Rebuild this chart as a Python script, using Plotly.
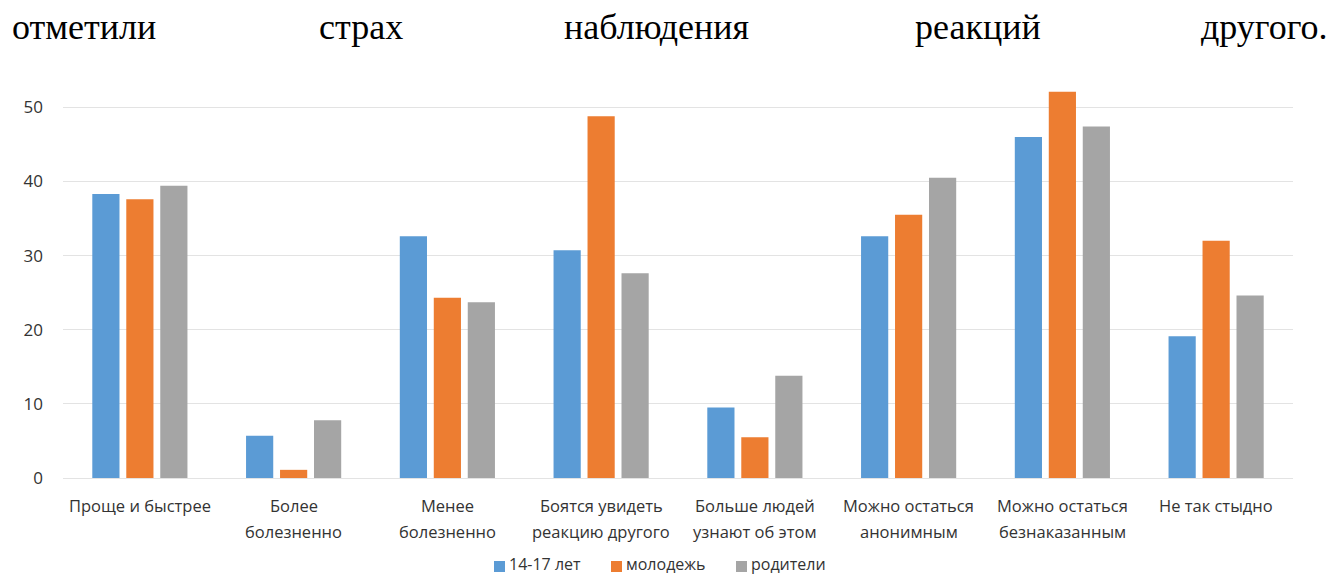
import plotly.graph_objects as go

# Survey answers (percent) by respondent group
categories = [
    "Проще и быстрее",
    "Более болезненно",
    "Менее болезненно",
    "Боятся увидеть реакцию другого",
    "Больше людей узнают об этом",
    "Можно остаться анонимным",
    "Можно остаться безнаказанным",
    "Не так стыдно",
]
label_line1 = ["Проще и быстрее", "Более", "Менее", "Боятся увидеть",
               "Больше людей", "Можно остаться", "Можно остаться", "Не так стыдно"]
label_line2 = ["", "болезненно", "болезненно", "реакцию другого",
               "узнают об этом", "анонимным", "безнаказанным", ""]

teens = [38.3, 5.7, 32.6, 30.7, 9.5, 32.6, 46.0, 19.1]
youth = [37.6, 1.1, 24.3, 48.8, 5.5, 35.5, 52.1, 32.0]
parents = [39.4, 7.8, 23.7, 27.6, 13.8, 40.5, 47.4, 24.6]

series_names = ["14-17 лет", "молодежь", "родители"]
series_values = [teens, youth, parents]
colors = ["#5B9BD5", "#ED7D31", "#A5A5A5"]

y_ticks = [0, 10, 20, 30, 40, 50]

W, H = 1334, 574
ML, MR, MT, MB = 63, 41, 85, 96
PW, PH = W - ML - MR, H - MT - MB

def px_x(px):
    return (px - ML) / PW

def px_y(py):
    return (H - MB - py) / PH

TEXT_COLOR = "#333333"
label_font = dict(family="Open Sans, sans-serif", size=16.5, color=TEXT_COLOR)

fig = go.Figure()
for name, vals, col in zip(series_names, series_values, colors):
    fig.add_trace(go.Bar(x=categories, y=vals, name=name, marker_color=col,
                         marker_line_width=0, showlegend=False))

annotations = []
# category labels, two lines each
for cat, l1, l2 in zip(categories, label_line1, label_line2):
    annotations.append(dict(x=cat, xref="x", y=px_y(505), yref="paper", text=l1,
                            showarrow=False, xanchor="center", yanchor="middle",
                            font=label_font))
    if l2:
        annotations.append(dict(x=cat, xref="x", y=px_y(531), yref="paper", text=l2,
                                showarrow=False, xanchor="center", yanchor="middle",
                                font=label_font))

# legend row
shapes = []
legend_left = [494, 611, 736]
for name, col, lx in zip(series_names, colors, legend_left):
    shapes.append(dict(type="rect", xref="paper", yref="paper",
                       x0=px_x(lx), x1=px_x(lx + 11), y0=px_y(572), y1=px_y(561),
                       fillcolor=col, line_width=0))
    annotations.append(dict(x=px_x(lx + 14), xref="paper", y=px_y(576), yref="paper",
                            text=name, showarrow=False, xanchor="left", yanchor="bottom",
                            borderpad=0,
                            font=dict(family="Open Sans, sans-serif", size=16,
                                      color=TEXT_COLOR)))

# sentence above the chart, spread across the width
head_words = ["отметили", "страх", "наблюдения", "реакций", "другого."]
head_left = [10, 317, 562, 913, 1330]
for i, (wd, hx) in enumerate(zip(head_words, head_left)):
    annotations.append(dict(x=px_x(hx), xref="paper", y=px_y(27), yref="paper",
                            text=wd, showarrow=False,
                            xanchor="right" if i == len(head_words) - 1 else "left",
                            yanchor="middle",
                            font=dict(family="Liberation Serif, Times New Roman, serif",
                                      size=36, color="#000000")))

fig.update_layout(
    width=W, height=H,
    margin=dict(l=ML, r=MR, t=MT, b=MB, pad=0),
    paper_bgcolor="white", plot_bgcolor="white",
    barmode="group", bargap=0.337, bargroupgap=0.2,
    annotations=annotations, shapes=shapes,
    xaxis=dict(showticklabels=False, showgrid=False, zeroline=False,
               showline=False, ticks=""),
    yaxis=dict(range=[0, 53], tickvals=y_ticks, showgrid=True,
               gridcolor="#E3E3E3", gridwidth=1.3, zeroline=True,
               zerolinecolor="#E3E3E3", zerolinewidth=1.3,
               showline=False, ticks="", ticklabelstandoff=19,
               tickfont=dict(family="Open Sans, sans-serif", size=17, color=TEXT_COLOR)),
)

fig.write_html("out.html")
